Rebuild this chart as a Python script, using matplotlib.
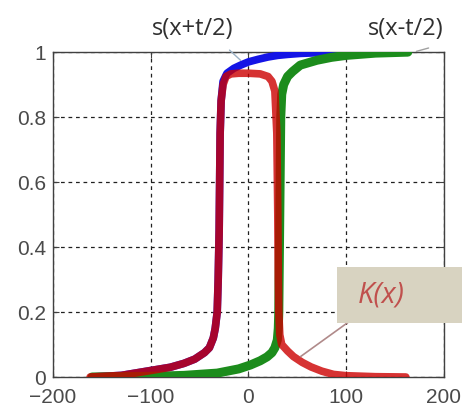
import matplotlib
matplotlib.use("Agg")
import matplotlib.pyplot as plt
from matplotlib.patches import Rectangle

# ---- data (x, value) ----
# s(x+t/2)  (blue)
blue_x = [-160, -130, -100, -80, -66, -55, -45, -40, -36, -34, -32, -31, -30, -29.5,
          -29, -28, -26, -22, -15, -8, 0, 10, 20, 30, 40, 53, 70, 90, 110, 130, 160]
blue_y = [0.0, 0.005, 0.02, 0.03, 0.042, 0.055, 0.075, 0.09, 0.12, 0.15, 0.2, 0.3, 0.45, 0.6,
          0.75, 0.85, 0.91, 0.935, 0.95, 0.96, 0.97, 0.978, 0.985, 0.99, 0.993, 0.996, 0.998,
          0.999, 1.0, 1.0, 1.0]

# s(x-t/2)  (green)
green_x = [-160, -130, -100, -66, -32, -10, 2, 12, 19, 24, 27, 29.5, 30.5, 31, 31.5, 32,
           32.5, 33, 34, 36, 40, 45, 53, 70, 85, 100, 130, 163]
green_y = [0.0, 0.001, 0.002, 0.005, 0.012, 0.025, 0.037, 0.05, 0.062, 0.075, 0.09, 0.114,
           0.15, 0.2, 0.35, 0.5, 0.65, 0.8, 0.87, 0.9, 0.925, 0.94, 0.96, 0.975, 0.984,
           0.99, 0.997, 1.0]

# K(x)  (red)
red_x = [-162, -130, -100, -80, -66, -55, -45, -40, -36, -34, -32, -31, -30, -29.5, -29,
         -28, -26, -23, -18, -10, 0, 12, 20, 24, 27, 29, 30, 30.5, 31, 32, 34, 40, 46, 55,
         64, 75, 87, 100, 130, 161]
red_y = [0.0, 0.005, 0.02, 0.03, 0.042, 0.055, 0.075, 0.09, 0.12, 0.15, 0.2, 0.3, 0.45, 0.6,
         0.75, 0.85, 0.9, 0.925, 0.933, 0.935, 0.935, 0.933, 0.925, 0.91, 0.88, 0.75, 0.5,
         0.3, 0.2, 0.13, 0.1, 0.08, 0.063, 0.045, 0.031, 0.018, 0.008, 0.004, 0.001, 0.0]

x_ticks = [-200, -100, 0, 100, 200]
y_ticks = [0, 0.2, 0.4, 0.6, 0.8, 1]
y_tick_labels = ["0", "0.2", "0.4", "0.6", "0.8", "1"]


def main():
    fig = plt.figure(figsize=(4.62, 4.17), dpi=100)
    ax = fig.add_axes([0.1147, 0.0959, 0.8463, 0.7791])

    # curves (red drawn semi-transparent, overlaps look purple / brown)
    ax.plot(blue_x, blue_y, color="#1414e6", lw=5.5, solid_capstyle="round", zorder=3)
    ax.plot(green_x, green_y, color="#1c8c1c", lw=6.5, solid_capstyle="round", zorder=4)
    ax.plot(red_x, red_y, color="#cc0000", lw=5.5, alpha=0.8, solid_capstyle="round", zorder=5)

    ax.set_xlim(-200, 200)
    ax.set_ylim(0, 1)
    ax.set_xticks(x_ticks)
    ax.set_yticks(y_ticks)
    ax.set_yticklabels(y_tick_labels)

    ax.grid(True, color="#202020", linestyle=(0, (3, 3)), lw=0.9)
    for s in ax.spines.values():
        s.set_color("#404040")
        s.set_linewidth(1.0)
    ax.tick_params(direction="in", length=4, top=True, right=True, color="#404040",
                   labelsize=15, labelcolor="#4a4a4a")
    ax.tick_params(axis="x", pad=8)
    ax.tick_params(axis="y", pad=5)
    for t in ax.get_xticklabels() + ax.get_yticklabels():
        t.set_fontfamily("Liberation Sans")

    # labels of the two step curves
    ax.text(-57, 1.07, "s(x+t/2)", ha="center", va="center", fontsize=17,
            family="Open Sans", color="#303030", clip_on=False)
    ax.text(161, 1.07, "s(x-t/2)", ha="center", va="center", fontsize=17,
            family="Open Sans", color="#303030", clip_on=False)
    ax.annotate("", xy=(-6, 0.969), xytext=(-21.5, 1.012),
                arrowprops=dict(arrowstyle="-", color="#9ab0c4", lw=1.0), annotation_clip=False)
    ax.annotate("", xy=(169, 1.0), xytext=(187, 1.015),
                arrowprops=dict(arrowstyle="-", color="#a0a0a0", lw=1.0), annotation_clip=False)

    # K(x) callout box
    fig.add_artist(Rectangle((0.729, 0.2254), 0.275, 0.134, transform=fig.transFigure,
                             facecolor="#d8d3c1", edgecolor="none", zorder=6))
    fig.text(0.825, 0.292, "K(x)", ha="center", va="center", fontsize=21, style="italic",
             family="Open Sans", color="#c0504d", zorder=7)
    ax.annotate("", xy=(51, 0.058), xytext=(105, 0.175),
                arrowprops=dict(arrowstyle="-", color="#b08a8a", lw=1.2), zorder=7)

    fig.savefig("out.png", dpi=100)
    plt.close(fig)


if __name__ == "__main__":
    main()
